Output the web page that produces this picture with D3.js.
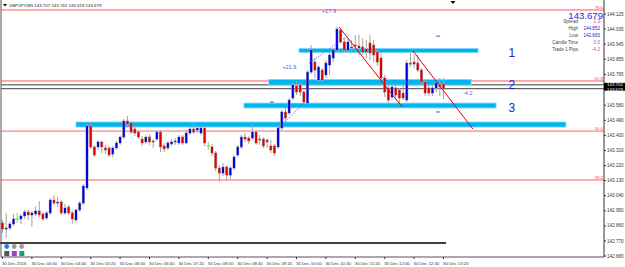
<!DOCTYPE html>
<html>
<head>
<meta charset="utf-8">
<script src="https://d3js.org/d3.v7.min.js"></script>
<style>
  body { margin: 0; background: #fff; }
  svg { display: block; font-family: "Liberation Sans", Arial, sans-serif; }
</style>
</head>
<body>
<svg id="viz" width="625" height="267"></svg>
<script>
// GBPJPY M5, 30 Dec 2016, bars from 03:20 to 13:20
const opens = [
  142.877, 142.841, 142.847, 142.871, 142.901, 142.901, 142.919, 142.943, 142.925, 142.931,
  142.949, 142.931, 142.907, 142.937, 143.014, 142.996, 143.002, 142.937, 142.972, 142.937,
  142.895, 142.955, 142.996, 143.086, 143.456, 143.331, 143.331, 143.361, 143.325, 143.325,
  143.289, 143.325, 143.355, 143.390, 143.486, 143.474, 143.438, 143.420, 143.378, 143.361,
  143.390, 143.367, 143.378, 143.420, 143.337, 143.325, 143.349, 143.361, 143.355, 143.390,
  143.355, 143.414, 143.438, 143.432, 143.414, 143.444, 143.337, 143.331, 143.295, 143.205,
  143.175, 143.211, 143.163, 143.205, 143.283, 143.331, 143.390, 143.384, 143.384, 143.420,
  143.378, 143.378, 143.372, 143.337, 143.337, 143.331, 143.444, 143.540, 143.534, 143.623,
  143.695, 143.701, 143.659, 143.593, 143.778, 143.838, 143.731, 143.790, 143.761, 143.820,
  143.862, 143.910, 144.029, 143.958, 143.910, 143.928, 143.940, 143.934, 143.928, 143.916,
  143.952, 143.940, 143.898, 143.862, 143.743, 143.683, 143.629, 143.683, 143.671, 143.653,
  143.611, 143.832, 143.838, 143.832, 143.790, 143.719, 143.683, 143.653, 143.683, 143.701,
  143.707
]
const highs = [
  142.895, 142.937, 142.883, 142.931, 142.937, 142.931, 142.955, 142.955, 142.949, 142.978,
  143.008, 142.943, 142.949, 143.026, 143.044, 143.032, 143.014, 142.990, 142.984, 142.949,
  142.961, 143.008, 143.109, 143.468, 143.468, 143.343, 143.372, 143.367, 143.343, 143.337,
  143.337, 143.367, 143.402, 143.498, 143.516, 143.486, 143.456, 143.432, 143.396, 143.402,
  143.408, 143.378, 143.432, 143.432, 143.355, 143.367, 143.378, 143.384, 143.402, 143.402,
  143.426, 143.456, 143.474, 143.462, 143.456, 143.456, 143.361, 143.349, 143.307, 143.223,
  143.235, 143.223, 143.217, 143.283, 143.343, 143.402, 143.414, 143.396, 143.462, 143.432,
  143.402, 143.390, 143.384, 143.372, 143.349, 143.456, 143.552, 143.564, 143.623, 143.713,
  143.725, 143.713, 143.671, 143.790, 143.940, 143.862, 143.820, 143.802, 143.850, 143.898,
  143.922, 144.047, 144.041, 143.981, 143.981, 143.970, 143.999, 143.999, 143.981, 143.970,
  143.999, 143.970, 143.922, 143.898, 143.761, 143.701, 143.701, 143.701, 143.683, 143.701,
  143.850, 143.892, 143.880, 143.880, 143.802, 143.731, 143.701, 143.695, 143.731, 143.743,
  143.742
]
const lows = [
  142.817, 142.788, 142.835, 142.859, 142.877, 142.871, 142.901, 142.895, 142.853, 142.919,
  142.913, 142.889, 142.895, 142.925, 142.984, 142.972, 142.925, 142.925, 142.925, 142.871,
  142.883, 142.943, 142.984, 143.074, 143.319, 143.271, 143.313, 143.295, 143.289, 143.271,
  143.271, 143.313, 143.343, 143.378, 143.456, 143.408, 143.396, 143.378, 143.337, 143.349,
  143.343, 143.325, 143.367, 143.301, 143.301, 143.313, 143.337, 143.343, 143.343, 143.343,
  143.349, 143.402, 143.408, 143.414, 143.402, 143.337, 143.313, 143.277, 143.187, 143.122,
  143.157, 143.134, 143.140, 143.193, 143.271, 143.319, 143.361, 143.349, 143.372, 143.343,
  143.343, 143.325, 143.325, 143.295, 143.277, 143.319, 143.432, 143.480, 143.522, 143.611,
  143.641, 143.635, 143.587, 143.587, 143.766, 143.743, 143.719, 143.719, 143.743, 143.761,
  143.838, 143.898, 143.946, 143.898, 143.898, 143.898, 143.892, 143.880, 143.880, 143.862,
  143.850, 143.838, 143.814, 143.731, 143.629, 143.587, 143.611, 143.611, 143.581, 143.611,
  143.599, 143.808, 143.802, 143.778, 143.707, 143.635, 143.635, 143.635, 143.659, 143.635,
  143.618
]
const closes = [
  142.841, 142.847, 142.871, 142.901, 142.901, 142.919, 142.943, 142.925, 142.937, 142.949,
  142.925, 142.901, 142.937, 143.014, 142.996, 143.002, 142.937, 142.966, 142.937, 142.901,
  142.955, 142.996, 143.098, 143.456, 143.331, 143.283, 143.361, 143.331, 143.313, 143.283,
  143.325, 143.355, 143.390, 143.486, 143.468, 143.420, 143.414, 143.390, 143.355, 143.390,
  143.361, 143.361, 143.420, 143.331, 143.319, 143.355, 143.361, 143.367, 143.390, 143.355,
  143.414, 143.438, 143.420, 143.444, 143.444, 143.355, 143.337, 143.295, 143.205, 143.175,
  143.211, 143.163, 143.205, 143.271, 143.331, 143.390, 143.378, 143.367, 143.420, 143.355,
  143.372, 143.337, 143.361, 143.313, 143.295, 143.444, 143.540, 143.504, 143.611, 143.701,
  143.659, 143.659, 143.599, 143.778, 143.910, 143.790, 143.808, 143.731, 143.832, 143.880,
  143.910, 144.035, 143.958, 143.910, 143.958, 143.922, 143.934, 143.922, 143.898, 143.898,
  143.892, 143.880, 143.838, 143.743, 143.659, 143.611, 143.689, 143.641, 143.623, 143.623,
  143.832, 143.826, 143.826, 143.790, 143.719, 143.653, 143.653, 143.683, 143.713, 143.689,
  143.679
]

// one label every 8 bars (40 minutes)
const timeLabels = ['30 Dec 2016', '30 Dec 04:00', '30 Dec 04:40', '30 Dec 05:20', '30 Dec 06:00',
  '30 Dec 06:40', '30 Dec 07:20', '30 Dec 08:00', '30 Dec 08:40', '30 Dec 09:20', '30 Dec 10:00',
  '30 Dec 10:40', '30 Dec 11:20', '30 Dec 12:00', '30 Dec 12:40', '30 Dec 13:20']
const priceTicks = [144.125, 144.035, 143.945, 143.855, 143.765, 143.580, 143.490, 143.400,
  143.310, 143.220, 143.130, 143.040, 142.950, 142.860, 142.770, 142.680]

const fibNames = ['78.6', '61.8', '50.0', '38.2']
const fibPrices = [144.149, 143.725, 143.426, 143.134]

const bid = 143.679
const ask = 143.702

// supply / demand zones (bar index, price)
const zoneNames = ['1', '2', '3', '']
const zoneStart = [80.7, 72.5, 65.7, 20]
const zoneEnd = [129.4, 127.5, 134.3, 153.3]
const zoneTop = [143.919, 143.734, 143.593, 143.480]
const zoneBottom = [143.895, 143.701, 143.564, 143.450]

const trendLines = [[91.6, 144.047, 108.7, 143.570], [111.7, 143.904, 128.0, 143.438]]
const rulerLines = [[75.2, 143.444, 82.0, 143.593], [83.4, 143.832, 94.6, 144.005]]
const pipTexts = ['+21.9', '+17.9', '-4.2']
const pipIndex = [76.1, 86.9, 125.3]
const pipPrices = [143.808, 144.143, 143.653]
const dashIndex = [73.3, 118.5, 118.5]
const dashPrices = [143.599, 143.993, 143.540]
const floorLine = [-1, 120.7, 142.758]

const infoLabels = ['Spread', 'High', 'Low', 'Candle Time', 'Trade 1 Pips']
const infoValues = ['2.3', '144.852', '142.683', '0:0', '-4.2']
const infoColors = ['#f0309a', '#2020d8', '#2020d8', '#f0309a', '#f0309a']

const svg = d3.select('svg#viz')
const RIGHT = 604, BOTTOM = 257

const x = d3.scaleLinear().domain([0, 120]).range([2.5, 443.5])
const y = d3.scaleLinear().domain([142.680, 144.125]).range([256, 14])

const bars = opens.map((o, i) => ({ i: i, o: o, h: highs[i], l: lows[i], c: closes[i] }))

// fibo levels
svg.append('g').selectAll('line')
    .data(fibPrices)
    .join('line')
    .attr('x1', 1).attr('x2', RIGHT)
    .attr('y1', d => y(d)).attr('y2', d => y(d))
    .attr('stroke', (d, i) => i == 2 ? '#ffa8a8' : '#ff5a5a')
    .attr('stroke-width', (d, i) => i == 2 ? 1.8 : 1)

svg.append('g').selectAll('text')
    .data(fibPrices)
    .join('text')
    .attr('x', RIGHT - 1).attr('y', d => y(d) - 1.4)
    .attr('text-anchor', 'end')
    .attr('font-size', 4.3)
    .attr('fill', '#ff4a4a')
    .text((d, i) => fibNames[i])

// bid / ask
svg.append('g').selectAll('line')
    .data([ask, bid])
    .join('line')
    .attr('x1', 1).attr('x2', RIGHT)
    .attr('y1', d => y(d)).attr('y2', d => y(d))
    .attr('stroke', '#404040')

// zones
const zoneG = svg.append('g')
zoneG.selectAll('rect')
    .data(zoneNames)
    .join('rect')
    .attr('x', (d, i) => x(zoneStart[i]))
    .attr('width', (d, i) => x(zoneEnd[i]) - x(zoneStart[i]))
    .attr('y', (d, i) => y(zoneTop[i]))
    .attr('height', (d, i) => y(zoneBottom[i]) - y(zoneTop[i]))
    .attr('fill', '#00b6f0')
    .attr('stroke', '#7dd5f6')
    .attr('stroke-width', 0.8)

zoneG.selectAll('text')
    .data(zoneNames)
    .join('text')
    .attr('x', x(138.6))
    .attr('y', (d, i) => y((zoneTop[i] + zoneBottom[i]) / 2) + 6.5)
    .attr('text-anchor', 'middle')
    .attr('font-size', 12)
    .attr('fill', '#2323d0')
    .text(d => d)

// long horizontal line near the bottom
svg.append('line')
    .attr('x1', 0).attr('x2', x(floorLine[1]))
    .attr('y1', y(floorLine[2])).attr('y2', y(floorLine[2]))
    .attr('stroke', '#000').attr('stroke-width', 1.5)

// candles
const candles = svg.append('g')
const isDoji = d => d.o == d.c

candles.selectAll('line')
    .data(bars)
    .join('line')
    .attr('x1', d => x(d.i)).attr('x2', d => x(d.i))
    .attr('y1', d => y(d.h)).attr('y2', d => y(d.l))
    .attr('stroke', d => isDoji(d) ? '#86d848' : '#a4a4a4')

candles.selectAll('rect.edge')
    .data(bars.filter(d => !isDoji(d)))
    .join('rect')
    .attr('class', 'edge')
    .attr('x', d => x(d.i) - 1.5).attr('width', 3)
    .attr('y', d => y(Math.max(d.o, d.c)) - 0.5)
    .attr('height', d => y(Math.min(d.o, d.c)) - y(Math.max(d.o, d.c)) + 1)
    .attr('fill', '#a8a8a8')

candles.selectAll('rect.body')
    .data(bars.filter(d => !isDoji(d)))
    .join('rect')
    .attr('class', 'body')
    .attr('x', d => x(d.i) - 1).attr('width', 2)
    .attr('y', d => y(Math.max(d.o, d.c)))
    .attr('height', d => Math.max(y(Math.min(d.o, d.c)) - y(Math.max(d.o, d.c)), 0.3))
    .attr('fill', d => d.c > d.o ? '#0000e6' : '#e00000')

candles.selectAll('line.doji')
    .data(bars.filter(isDoji))
    .join('line')
    .attr('class', 'doji')
    .attr('x1', d => x(d.i) - 2).attr('x2', d => x(d.i) + 2)
    .attr('y1', d => y(d.o)).attr('y2', d => y(d.o))
    .attr('stroke', '#86d848')

// trend lines and pip rulers
svg.append('g').selectAll('line')
    .data(trendLines)
    .join('line')
    .attr('x1', d => x(d[0])).attr('y1', d => y(d[1]))
    .attr('x2', d => x(d[2])).attr('y2', d => y(d[3]))
    .attr('stroke', '#e80000')

svg.append('g').selectAll('line')
    .data(rulerLines)
    .join('line')
    .attr('x1', d => x(d[0])).attr('y1', d => y(d[1]))
    .attr('x2', d => x(d[2])).attr('y2', d => y(d[3]))
    .attr('stroke', '#5a5af0')
    .attr('stroke-dasharray', '1.2,1.6')

svg.append('g').selectAll('line')
    .data(dashIndex)
    .join('line')
    .attr('x1', d => x(d) - 2).attr('x2', d => x(d) + 2)
    .attr('y1', (d, i) => y(dashPrices[i])).attr('y2', (d, i) => y(dashPrices[i]))
    .attr('stroke', '#5050e0')

svg.append('g').selectAll('text')
    .data(pipTexts)
    .join('text')
    .attr('x', (d, i) => x(pipIndex[i]))
    .attr('y', (d, i) => y(pipPrices[i]) + 2)
    .attr('font-size', 5.6)
    .attr('fill', '#5a5ae6')
    .text(d => d)

// frame
svg.append('line').attr('x1', 1).attr('x2', 1).attr('y1', 0).attr('y2', BOTTOM).attr('stroke', '#555')
svg.append('line').attr('x1', RIGHT).attr('x2', RIGHT).attr('y1', 0).attr('y2', BOTTOM).attr('stroke', '#333')
svg.append('line').attr('x1', 1).attr('x2', RIGHT).attr('y1', BOTTOM).attr('y2', BOTTOM).attr('stroke', '#555')

// price axis
const yAxis = svg.append('g')
yAxis.selectAll('line')
    .data(priceTicks)
    .join('line')
    .attr('x1', RIGHT).attr('x2', RIGHT + 2)
    .attr('y1', d => y(d)).attr('y2', d => y(d))
    .attr('stroke', '#333')
yAxis.selectAll('text')
    .data(priceTicks)
    .join('text')
    .attr('x', RIGHT + 3).attr('y', d => y(d) + 1.6)
    .attr('font-size', 4.6)
    .attr('fill', '#333')
    .text(d => d.toFixed(3))

// current price box
svg.append('rect').attr('x', RIGHT).attr('y', y(ask) - 2).attr('width', 21).attr('height', y(bid) - y(ask) + 4).attr('fill', '#000')
svg.append('g').selectAll('text')
    .data([ask, bid])
    .join('text')
    .attr('x', RIGHT + 3).attr('y', (d, i) => y(d) + 1.2 + (i == 0 ? 0 : 0.8))
    .attr('font-size', 4.4)
    .attr('fill', '#fff')
    .text(d => d.toFixed(3))

// time axis
const xAxis = svg.append('g')
xAxis.selectAll('line')
    .data(timeLabels)
    .join('line')
    .attr('x1', (d, i) => x(i * 8)).attr('x2', (d, i) => x(i * 8))
    .attr('y1', BOTTOM).attr('y2', BOTTOM + 2)
    .attr('stroke', '#333')
xAxis.selectAll('text')
    .data(timeLabels)
    .join('text')
    .attr('x', (d, i) => x(i * 8) - 0.5).attr('y', 264.5)
    .attr('font-size', 4.3)
    .attr('fill', '#333')
    .text(d => d)

// title
svg.append('path').attr('d', 'M3,4 L7,4 L5,6.5 Z').attr('fill', '#000')
svg.append('text').attr('x', 9).attr('y', 6.6).attr('font-size', 4.4).attr('fill', '#222')
    .text('GBPJPY,M5  143.707 143.742 143.618 143.679')
svg.append('path').attr('d', 'M450.5,1 L455.5,1 L453,4 Z').attr('fill', '#000')

// info panel
svg.append('text').attr('x', 603).attr('y', 18.6).attr('text-anchor', 'end')
    .attr('font-size', 9.6).attr('fill', '#1e28e0').text(bid.toFixed(3))
const info = svg.append('g')
info.selectAll('text.lbl')
    .data(infoLabels)
    .join('text')
    .attr('class', 'lbl')
    .attr('x', 578).attr('y', (d, i) => 23.4 + i * 6.8)
    .attr('text-anchor', 'end')
    .attr('font-size', 4.6)
    .attr('fill', '#444')
    .text(d => d)
info.selectAll('text.val')
    .data(infoValues)
    .join('text')
    .attr('class', 'val')
    .attr('x', 600).attr('y', (d, i) => 23.4 + i * 6.8)
    .attr('text-anchor', 'end')
    .attr('font-size', 4.6)
    .attr('fill', (d, i) => infoColors[i])
    .text(d => d)

// little toolbar icons in the corner
svg.append('g').selectAll('circle')
    .data(['#2a7de0', '#9a9a9a', '#9a9a9a'])
    .join('circle')
    .attr('cx', (d, i) => 6.7 + i * 7.5).attr('cy', 246.5).attr('r', 2.4)
    .attr('fill', d => d)
svg.append('g').selectAll('rect')
    .data(['#555', '#a040c8', '#20a070'])
    .join('rect')
    .attr('x', (d, i) => 4.3 + i * 7.5).attr('y', 251).attr('width', 5).attr('height', 5)
    .attr('fill', d => d)
</script>
</body>
</html>
